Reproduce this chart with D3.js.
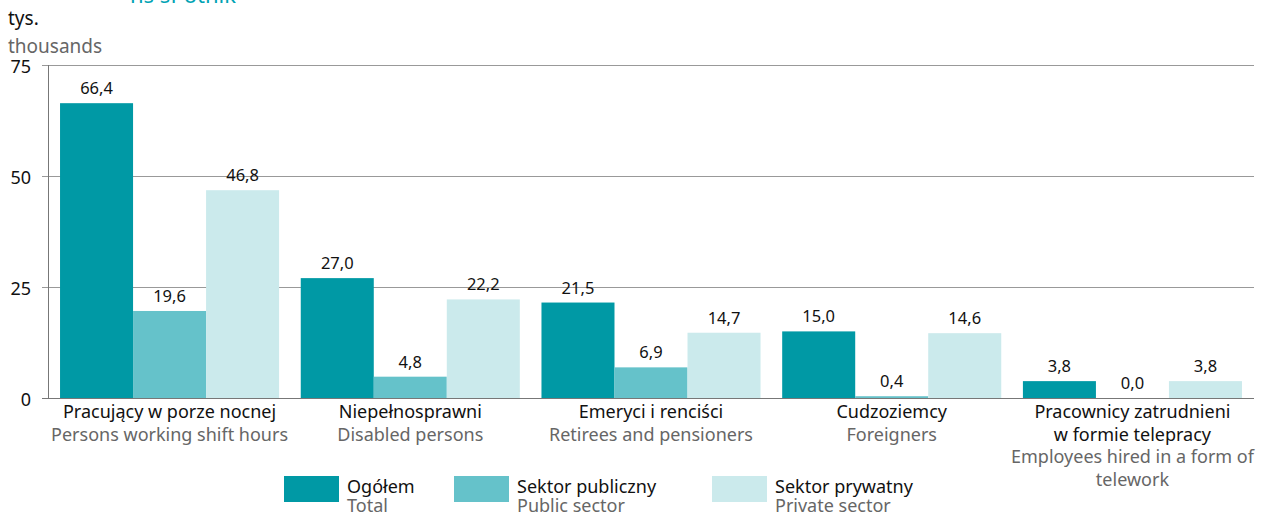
<!DOCTYPE html>
<html>
<head>
<meta charset="utf-8">
<script src="https://cdn.jsdelivr.net/npm/d3@7"></script>
<style>
  body { margin: 0; background: #fff; }
  svg text { font-family: "Noto Sans", "Open Sans", sans-serif; }
</style>
</head>
<body>
<script>
// categories (Polish / English)
var categoriesPl = [["Pracujący w porze nocnej"], ["Niepełnosprawni"], ["Emeryci i renciści"], ["Cudzoziemcy"], ["Pracownicy zatrudnieni", "w formie telepracy"]];
var categoriesEn = [["Persons working shift hours"], ["Disabled persons"], ["Retirees and pensioners"], ["Foreigners"], ["Employees hired in a form of", "telework"]];

var seriesPl = ["Ogółem", "Sektor publiczny", "Sektor prywatny"];
var seriesEn = ["Total", "Public sector", "Private sector"];

var totalValues   = [66.4, 27.0, 21.5, 15.0, 3.8];
var publicValues  = [19.6, 4.8, 6.9, 0.4, 0.0];
var privateValues = [46.8, 22.2, 14.7, 14.6, 3.8];

var yTicks = [0, 25, 50, 75];

var colors = ["#0099a5", "#65c2ca", "#cbeaec"];

var screen = {width: 1263, height: 514};
var margin = {left: 48, right: 9, top: 65, bottom: 116};

var svg = d3.select("body")
            .append("svg")
            .attr("width", screen.width)
            .attr("height", screen.height);

// cut off title remnant at top
svg.append("text")
   .attr("x", 130)
   .attr("y", 3)
   .attr("fill", "#00a3b4")
   .attr("font-size", 22)
   .text("ns sPotnik");

var x0 = d3.scaleBand()
           .domain(d3.range(categoriesPl.length))
           .range([margin.left, screen.width - margin.right])
           .paddingInner(0.09)
           .paddingOuter(0.05);

var x1 = d3.scaleBand()
           .domain(d3.range(seriesPl.length))
           .range([0, x0.bandwidth()]);

var y = d3.scaleLinear()
          .domain([0, 75])
          .range([screen.height - margin.bottom, margin.top]);

// gridlines
svg.append("g")
   .selectAll("line")
   .data(yTicks)
   .enter()
   .append("line")
   .attr("x1", margin.left - 6)
   .attr("x2", screen.width - margin.right)
   .attr("y1", function(d) {return y(d) + 0.5;})
   .attr("y2", function(d) {return y(d) + 0.5;})
   .attr("stroke", function(d) {return d == 0 ? "#777" : "#999";})
   .attr("stroke-width", 1);

// left axis line
svg.append("line")
   .attr("x1", margin.left + 0.5)
   .attr("x2", margin.left + 0.5)
   .attr("y1", y(75))
   .attr("y2", y(0))
   .attr("stroke", "#777");

svg.append("g")
   .selectAll("text")
   .data(yTicks)
   .enter()
   .append("text")
   .attr("x", 31)
   .attr("y", function(d) {return y(d) + 8;})
   .attr("text-anchor", "end")
   .attr("font-size", 18)
   .attr("fill", "#111")
   .text(function(d) {return d;});

svg.append("text")
   .attr("x", 8)
   .attr("y", 25)
   .attr("font-size", 19)
   .attr("fill", "#111")
   .text("tys.");

svg.append("text")
   .attr("x", 8)
   .attr("y", 53)
   .attr("font-size", 19)
   .attr("fill", "#666")
   .text("thousands");

// bars
var series = [totalValues, publicValues, privateValues];
var fmt = function(v) {return d3.format(".1f")(v).replace(".", ",");};

var groups = svg.append("g")
                .selectAll("g")
                .data(d3.range(categoriesPl.length))
                .enter()
                .append("g")
                .attr("transform", function(i) {return "translate(" + x0(i) + ",0)";});

groups.selectAll("rect")
      .data(function(i) {return series.map(function(s, j) {return {j: j, v: s[i]};});})
      .enter()
      .append("rect")
      .attr("x", function(d) {return x1(d.j);})
      .attr("width", x1.bandwidth())
      .attr("y", function(d) {return y(d.v);})
      .attr("height", function(d) {return y(0) - y(d.v);})
      .attr("fill", function(d) {return colors[d.j];});

groups.selectAll("text.val")
      .data(function(i) {return series.map(function(s, j) {return {j: j, v: s[i]};});})
      .enter()
      .append("text")
      .attr("class", "val")
      .attr("x", function(d) {return x1(d.j) + x1.bandwidth()/2;})
      .attr("y", function(d) {return y(d.v) - 9;})
      .attr("text-anchor", "middle")
      .attr("font-size", 16.5)
      .attr("fill", "#111")
      .text(function(d) {return fmt(d.v);});

// category labels
var lineH = 22.7;
groups.each(function(i) {
  var g = d3.select(this);
  var cx = x0.bandwidth()/2;
  var lines = categoriesPl[i].map(function(t) {return {t: t, c: "#111"};})
             .concat(categoriesEn[i].map(function(t) {return {t: t, c: "#666"};}));
  g.selectAll("text.cat")
   .data(lines)
   .enter()
   .append("text")
   .attr("class", "cat")
   .attr("x", cx)
   .attr("y", function(d, k) {return y(0) + 20 + k * lineH;})
   .attr("text-anchor", "middle")
   .attr("font-size", 18)
   .attr("fill", function(d) {return d.c;})
   .text(function(d) {return d.t;});
});

// legend
var legendX = [284, 454, 712];
var legend = svg.append("g")
                .selectAll("g")
                .data(d3.range(seriesPl.length))
                .enter()
                .append("g")
                .attr("transform", function(j) {return "translate(" + legendX[j] + ",476)";});

legend.append("rect")
      .attr("width", 55)
      .attr("height", 26)
      .attr("fill", function(j) {return colors[j];});

legend.append("text")
      .attr("x", 63)
      .attr("y", 17)
      .attr("font-size", 18)
      .attr("fill", "#111")
      .text(function(j) {return seriesPl[j];});

legend.append("text")
      .attr("x", 63)
      .attr("y", 35.5)
      .attr("font-size", 18)
      .attr("fill", "#666")
      .text(function(j) {return seriesEn[j];});
</script>
</body>
</html>
